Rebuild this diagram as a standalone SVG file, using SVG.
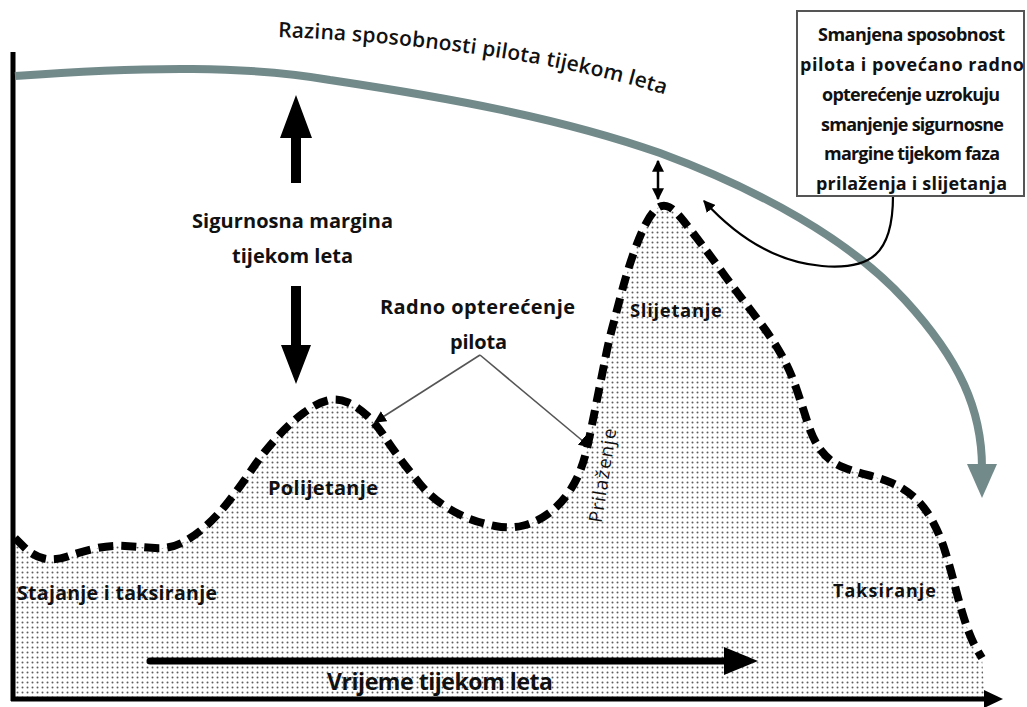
<svg xmlns="http://www.w3.org/2000/svg" width="1027" height="707" viewBox="0 0 1027 707">
<defs>
<pattern id="dots" width="5" height="5" patternUnits="userSpaceOnUse"><rect width="5" height="5" fill="#fff"/><circle cx="2.5" cy="2.5" r="1" fill="#5e5e5e"/></pattern>
<marker id="ah" viewBox="0 0 10 10" refX="9" refY="5" markerWidth="12" markerHeight="12" markerUnits="userSpaceOnUse" orient="auto"><path d="M0,0 L10,5 L0,10 Z" fill="#000"/></marker>
<marker id="ahs" viewBox="0 0 10 10" refX="9" refY="5" markerWidth="12" markerHeight="12" markerUnits="userSpaceOnUse" orient="auto-start-reverse"><path d="M0,0 L10,5 L0,10 Z" fill="#000"/></marker>
<path id="titlePath" d="M278,37 C400,41 560,60 672,97"/>
</defs>
<style>
.lbl{font-family:"Open Sans",Lato,"Liberation Sans",sans-serif;font-weight:bold;fill:#111;}
.reg{font-family:"Open Sans",Lato,"Liberation Sans",sans-serif;fill:#111;}
.work{fill:none;stroke:#000;stroke-width:8;stroke-dasharray:15 8;}
.thin{fill:none;stroke:#555;stroke-width:1.6;}
</style>
<rect width="1027" height="707" fill="#fff"/>

<g id="workload-area">
<path d="M15,538 L24,547 Q33,556 44,558.5 Q55,561 67.5,556.5 Q80,552 95,548.5 Q110,545 125,546 Q140,547 155,548 Q170,549 182.5,542.5 Q195,536 206.5,525.5 Q218,515 229,501 Q240,487 251.5,470 Q263,453 276.5,438 Q290,423 303.5,413 Q317,403 327.5,400.5 Q338,398 348,402.5 Q358,407 367.5,416 Q377,425 384.5,436.5 Q392,448 401,460 Q410,472 420,484 Q430,496 442.5,504.5 Q455,513 467.5,518 Q480,523 495,526 Q510,529 523.5,525.5 Q537,522 548.5,513.5 Q560,505 568,493.5 Q576,482 580.5,470 Q585,458 588,444 Q591,430 594,415 Q597,400 600,385 Q603,370 606,355 Q609,340 613,325 Q617,310 622,291 Q627,272 633.5,253.5 Q640,235 646,223.5 Q652,212 657.5,208 Q663,204 669,207 Q675,210 684,221.5 Q693,233 702.5,245.5 Q712,258 722.5,272.5 Q733,287 743,300 Q753,313 763,326.5 Q773,340 781.5,355 Q790,370 796,387.5 Q802,405 807.5,422.5 Q813,440 821.5,451 Q830,462 842.5,467 Q855,472 867.5,475 Q880,478 892,483 Q904,488 914.5,497.5 Q925,507 932.5,521 Q940,535 945,551 Q950,567 954,582.5 Q958,598 961.5,610 Q965,622 969,632.5 Q973,643 977.5,650.5 L982,658 L985,699 L15,699 Z" fill="url(#dots)"/>
<path class="work" d="M15,538 L24,547 Q33,556 44,558.5 Q55,561 67.5,556.5 Q80,552 95,548.5 Q110,545 125,546 Q140,547 155,548 Q170,549 182.5,542.5 Q195,536 206.5,525.5 Q218,515 229,501 Q240,487 251.5,470 Q263,453 276.5,438 Q290,423 303.5,413 Q317,403 327.5,400.5 Q338,398 348,402.5 Q358,407 367.5,416 Q377,425 384.5,436.5 Q392,448 401,460 Q410,472 420,484 Q430,496 442.5,504.5 Q455,513 467.5,518 Q480,523 495,526 Q510,529 523.5,525.5 Q537,522 548.5,513.5 Q560,505 568,493.5 Q576,482 580.5,470 Q585,458 588,444 Q591,430 594,415 Q597,400 600,385 Q603,370 606,355 Q609,340 613,325 Q617,310 622,291 Q627,272 633.5,253.5 Q640,235 646,223.5 Q652,212 657.5,208 Q663,204 669,207 Q675,210 684,221.5 Q693,233 702.5,245.5 Q712,258 722.5,272.5 Q733,287 743,300 Q753,313 763,326.5 Q773,340 781.5,355 Q790,370 796,387.5 Q802,405 807.5,422.5 Q813,440 821.5,451 Q830,462 842.5,467 Q855,472 867.5,475 Q880,478 892,483 Q904,488 914.5,497.5 Q925,507 932.5,521 Q940,535 945,551 Q950,567 954,582.5 Q958,598 961.5,610 Q965,622 969,632.5 Q973,643 977.5,650.5 L982,658"/>
</g>

<g id="axes">
<line x1="13" y1="52" x2="13" y2="701" stroke="#000" stroke-width="5"/>
<line x1="11" y1="699" x2="988" y2="699" stroke="#000" stroke-width="5"/>
<polygon points="984,690 1003,699 984,708" fill="#000"/>
</g>

<g id="capability-curve">
<path d="M15,76 C150,66 250,66 330,80 C450,98 560,118 660,153 C760,190 850,240 905,300 C960,360 982,410 982,468" fill="none" stroke="#738a8b" stroke-width="8"/>
<polygon points="967,464 997,464 982,498" fill="#738a8b"/>
<text class="reg" font-size="21" font-weight="600"><textPath href="#titlePath" textLength="392" lengthAdjust="spacing">Razina sposobnosti pilota tijekom leta</textPath></text>
</g>

<g id="safety-margin">
<polygon points="296,95 312,138 301,138 301,183 291,183 291,138 280,138" fill="#000"/>
<polygon points="291,286 301,286 301,345 311,345 296,384 281,345 291,345" fill="#000"/>
<text class="lbl" font-size="20" x="192" y="228" textLength="201" lengthAdjust="spacing">Sigurnosna margina</text>
<text class="lbl" font-size="20" x="232" y="263" textLength="121" lengthAdjust="spacing">tijekom leta</text>
</g>

<g id="workload-label">
<text class="lbl" font-size="20" x="380" y="314" textLength="195" lengthAdjust="spacing">Radno opterećenje</text>
<text class="lbl" font-size="20" x="450" y="349" textLength="57" lengthAdjust="spacing">pilota</text>
</g>

<g id="connectors">
<line class="thin" x1="480" y1="355" x2="375" y2="422" marker-end="url(#ah)"/>
<line class="thin" x1="480" y1="355" x2="590" y2="447" marker-end="url(#ah)"/>
<line x1="658" y1="161" x2="658" y2="199" stroke="#000" stroke-width="2.5" marker-start="url(#ahs)" marker-end="url(#ah)"/>
<path d="M893,196 C893,255 870,270 822,266 C775,262 735,235 704,201" fill="none" stroke="#000" stroke-width="2.2" marker-end="url(#ah)"/>
<line x1="150" y1="661" x2="730" y2="661" stroke="#000" stroke-width="7" stroke-linecap="round"/>
<polygon points="724,647 758,661 724,675" fill="#000"/>
</g>

<g id="note-box">
<rect x="797" y="11" width="227" height="185" fill="#fff" stroke="#555" stroke-width="2"/>
<text class="lbl" font-size="18" x="818" y="41" textLength="187" lengthAdjust="spacing">Smanjena sposobnost</text>
<text class="lbl" font-size="18" x="800" y="71" textLength="224" lengthAdjust="spacing">pilota i povećano radno</text>
<text class="lbl" font-size="18" x="822" y="101" textLength="178" lengthAdjust="spacing">opterećenje uzrokuju</text>
<text class="lbl" font-size="18" x="821" y="131" textLength="183" lengthAdjust="spacing">smanjenje sigurnosne</text>
<text class="lbl" font-size="18" x="824" y="160" textLength="176" lengthAdjust="spacing">margine tijekom faza</text>
<text class="lbl" font-size="18" x="816" y="190" textLength="191" lengthAdjust="spacing">prilaženja i slijetanja</text>
</g>

<g id="phase-labels">
<text class="lbl" font-size="19.5" x="17" y="600" textLength="200" lengthAdjust="spacing">Stajanje i taksiranje</text>
<text class="lbl" font-size="20" x="268" y="495" textLength="110" lengthAdjust="spacing">Polijetanje</text>
<text class="lbl" font-size="18.5" x="630" y="317" textLength="92" lengthAdjust="spacing">Slijetanje</text>
<text class="reg" font-size="18.5" x="556" y="482" textLength="95" lengthAdjust="spacing" transform="rotate(-81 603 476)">Prilaženje</text>
<text class="lbl" font-size="18" x="833" y="597" textLength="103" lengthAdjust="spacing">Taksiranje</text>
<text class="lbl" font-size="23" x="327" y="690" textLength="226" lengthAdjust="spacing">Vrijeme tijekom leta</text>
</g>
</svg>
